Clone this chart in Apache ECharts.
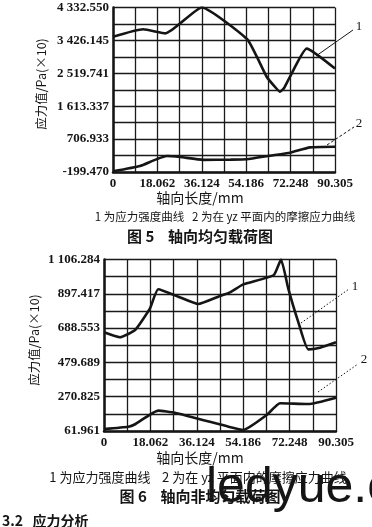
<!DOCTYPE html>
<html><head><meta charset="utf-8">
<script src="https://cdn.jsdelivr.net/npm/echarts@6/dist/echarts.min.js"></script>
<style>html,body{margin:0;padding:0;background:#fff}#c{width:372px;height:527px}</style>
</head><body><div id="c"></div>
<script>
// ---- tick labels ----
const xTickLabels = ['0','18.062','36.124','54.186','72.248','90.305'];
const yTickLabels5 = ['-199.470','706.933','1 613.337','2 519.741','3 426.145','4 332.550'];
const yTickLabels6 = ['61.961','270.825','479.689','688.553','897.417','1 106.284'];

// ---- Figure 5 data (axial uniform load) ----
const f5c1x = [0, 12.3, 21.4, 36.124, 54.6, 58.5, 62.5, 66.3, 67.9, 69.6, 72.0, 78.8, 90.305];
const f5c1y = [3528, 3732, 3621, 4332, 3460, 2977, 2426, 2115, 2013, 2115, 2426, 3200, 2650];
const f5c2x = [0, 11.0, 21.8, 27.3, 36.7, 47.6, 54.4, 63.9, 72.0, 80.1, 90.305];
const f5c2y = [-180, -34, 241, 213, 135, 140, 150, 250, 332, 478, 497];

// ---- Figure 6 data (axial non-uniform load) ----
const f6c1x = [0, 6.2, 12.1, 17.9, 21.1, 28.9, 36.7, 44.5, 49.0, 54.2, 66.1, 68.9, 71.7, 75.6, 79.5, 84.1, 90.305];
const f6c1y = [663, 633, 677, 809, 925, 880, 835, 880, 906, 955, 1012, 1106, 931, 727, 559, 569, 602];
const f6c2x = [0, 9.5, 12.1, 21.1, 27.6, 48.5, 54.2, 63.3, 68.5, 79.5, 90.305];
const f6c2y = [74, 88, 103, 186, 173, 88, 68, 159, 231, 226, 265];

function num(s){ return parseFloat(s.replace(/\s/g,'')); }
function withMid(v){ const o=[]; for(let i=0;i<v.length;i++){ o.push(v[i]); if(i<v.length-1) o.push((v[i]+v[i+1])/2);} return o; }
function fmt(vals, labels){ return function(v){ for(let i=0;i<vals.length;i++){ if(Math.abs(vals[i]-v)<1e-6*Math.max(1,Math.abs(v))) return labels[i]; } return ''; }; }

const xVals = xTickLabels.map(num);
const y5Vals = yTickLabels5.map(num);
const y6Vals = yTickLabels6.map(num);

const INK = '#151515';
const serif = 'Liberation Serif';
const cjk = 'Noto Sans CJK SC';

function mkX(gi){
  return {
    type:'value', gridIndex:gi, min:xVals[0], max:xVals[xVals.length-1],
    axisLine:{show:true, onZero:false, lineStyle:{color:INK, width:2.5}},
    axisTick:{show:false, customValues: withMid(xVals)},
    axisLabel:{customValues: xVals, formatter: fmt(xVals, xTickLabels), color:INK, fontFamily:serif, fontSize:13, fontWeight:'bold', margin:5},
    splitLine:{show:true, lineStyle:{color:'#1a1a1a', width:1.3}}
  };
}
function mkY(gi, vals, labels){
  return {
    type:'value', gridIndex:gi, min:vals[0], max:vals[vals.length-1],
    axisLine:{show:true, onZero:false, lineStyle:{color:INK, width:2.5}},
    axisTick:{show:false, customValues: withMid(vals)},
    axisLabel:{customValues: vals, formatter: fmt(vals, labels), color:INK, fontFamily:serif, fontSize:13, fontWeight:'bold', margin:4},
    splitLine:{show:true, lineStyle:{color:'#1a1a1a', width:1.3}}
  };
}
function mkS(xi, xs, ys){
  return {type:'line', xAxisIndex:xi, yAxisIndex:xi, symbol:'none', smooth:0.15,
    lineStyle:{color:INK, width:2.6}, data: xs.map((x,i)=>[x, ys[i]]), z:5, animation:false};
}
function txt(x,y,t,size,opts){
  return Object.assign({type:'text', x:x, y:y, style:{text:t, fill:INK, font: (opts&&opts.weight||'normal')+' '+size+'px "'+((opts&&opts.family)||cjk)+'"', textAlign:(opts&&opts.align)||'center', textVerticalAlign:'middle'}}, (opts&&opts.extra)||{});
}
function seg(x1,y1,x2,y2,dash){
  return {type:'line', shape:{x1:x1,y1:y1,x2:x2,y2:y2}, style:{stroke:INK, lineWidth:1, lineDash: dash||null}};
}

const chart = echarts.init(document.getElementById('c'), null, {renderer:'canvas'});
chart.setOption({
  animation:false,
  backgroundColor:'#fff',
  grid:[
    {left:113, top:7.5, width:222, height:164.5},
    {left:104, top:259.5, width:232, height:171.5}
  ],
  xAxis:[mkX(0), mkX(1)],
  yAxis:[mkY(0, y5Vals, yTickLabels5), mkY(1, y6Vals, yTickLabels6)],
  series:[mkS(0, f5c1x, f5c1y), mkS(0, f5c2x, f5c2y), mkS(1, f6c1x, f6c1y), mkS(1, f6c2x, f6c2y)],
  graphic:[
    // y axis names
    Object.assign(txt(0,0,'应力值/Pa(×10)',12.5), {x:41, y:84, rotation:Math.PI/2}),
    Object.assign(txt(0,0,'应力值/Pa(×10)',12.5), {x:34, y:340, rotation:Math.PI/2}),
    // x axis names
    txt(200,198,'轴向长度/mm',14),
    txt(200,458,'轴向长度/mm',14),
    // figure 5 annotations
    seg(316,56,353,30), txt(359,27,'1',13,{family:serif}),
    seg(327,145,354,127,[3,2]), txt(359,124,'2',13,{family:serif}),
    // figure 6 annotations
    seg(301,323,349,289,[1.5,2]), txt(355,287,'1',13,{family:serif}),
    seg(318,392,358,364,[1.5,2]), txt(364,360,'2',13,{family:serif}),
    // captions
    txt(225,217,'1 为应力强度曲线   2 为在 yz 平面内的摩擦应力曲线',11.5),
    txt(200,236,'图 5    轴向均匀载荷图',15,{weight:'bold'}),
    txt(198,477,'1 为应力强度曲线    2 为在 yz 平面内的摩擦应力曲线',13),
    txt(200,496,'图 6    轴向非均匀载荷图',15,{weight:'bold'}),
    txt(2,521,'3.2   应力分析',14,{weight:'bold', align:'left'}),
    // watermark
    txt(206,488,'ledyue.c',50,{family:'Liberation Sans', align:'left'})
  ]
});
</script></body></html>
